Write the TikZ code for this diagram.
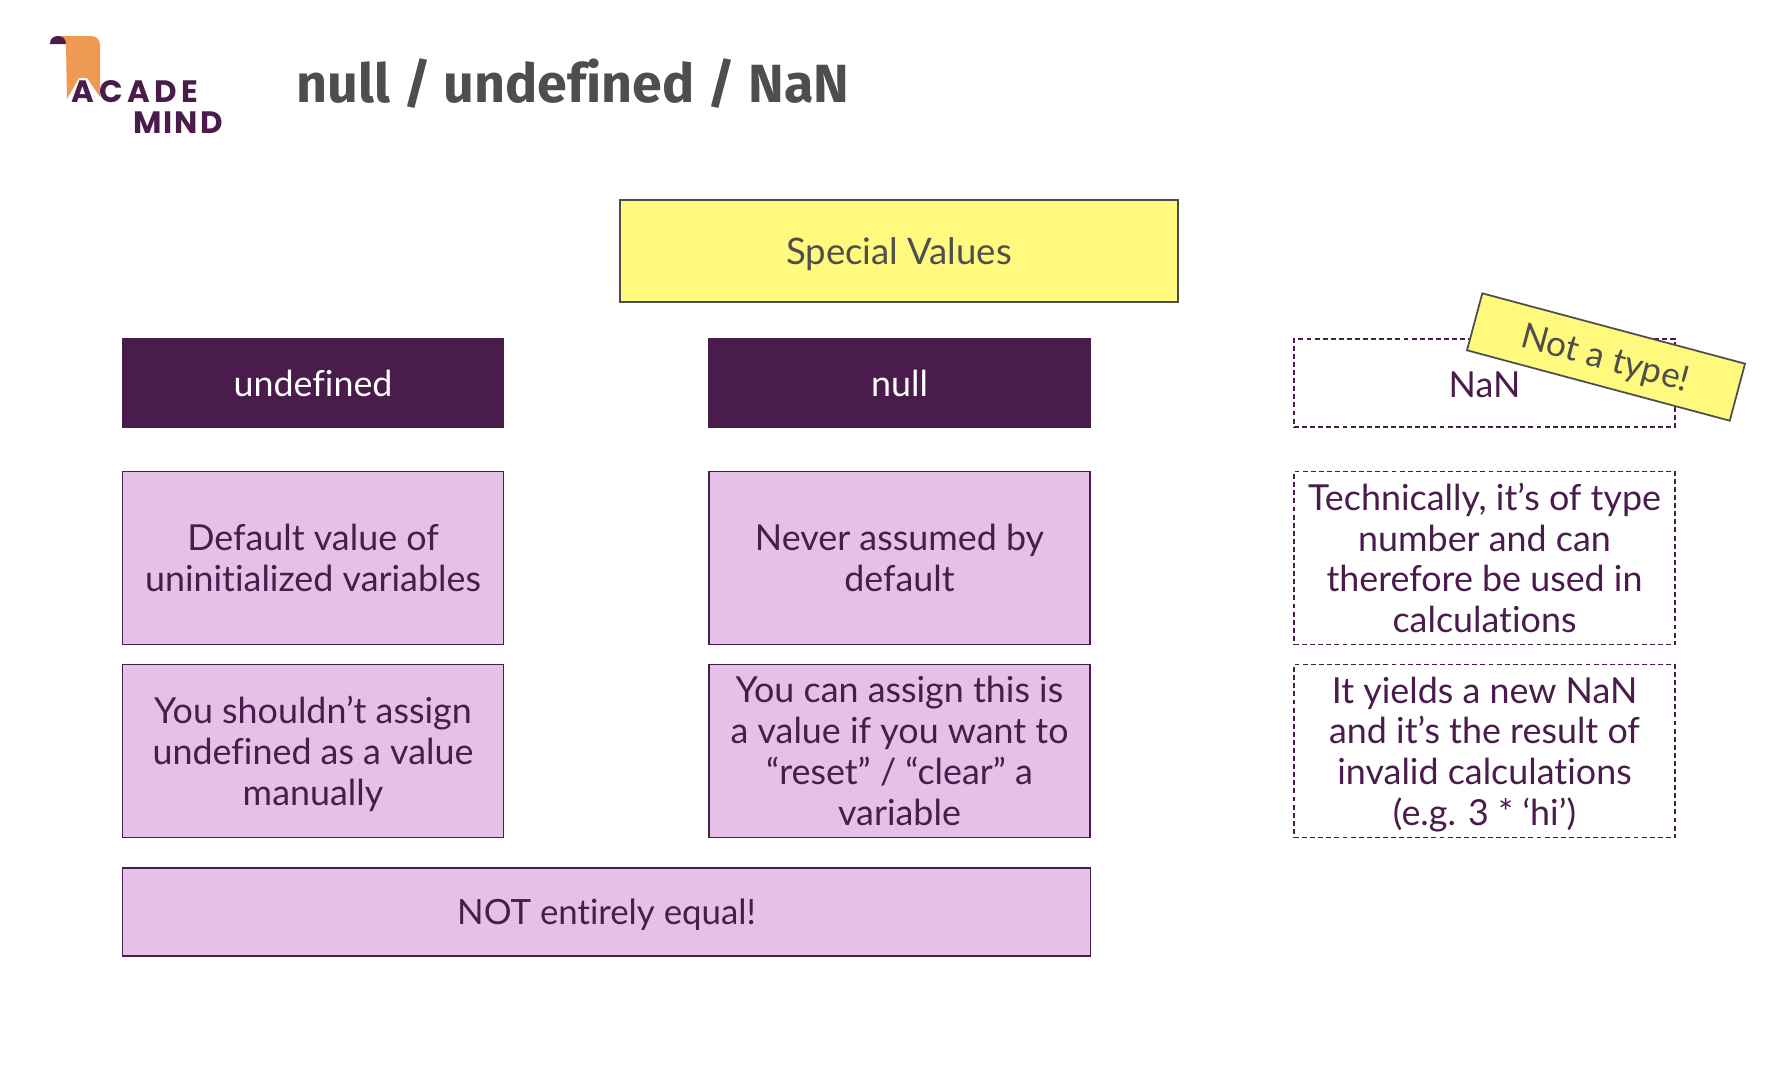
\documentclass[tikz,border=0pt]{standalone}
\usepackage{fontspec}
\setmainfont[Ligatures=NoCommon]{Lato}
\newfontfamily\titlefont[Ligatures=NoCommon]{Fira Sans}
\newfontfamily\logofontA[LetterSpace=15]{Poppins}
\newfontfamily\logofontB[LetterSpace=6]{Poppins}
\usetikzlibrary{shapes,arrows,patterns}
\definecolor{plum}{HTML}{4A1C4C}
\definecolor{lilac}{HTML}{E5C1E8}
\definecolor{lemon}{HTML}{FFF97D}
\definecolor{slate}{HTML}{4E4E4E}
\definecolor{ribbon}{HTML}{EE9A55}
\tikzset{
  box/.style={draw=plum,line width=0.5pt,inner sep=0pt,align=center,text=plum,font=\fontsize{10.2}{11.6}\selectfont},
  infobox/.style={box,fill=lilac,minimum width=3.81cm,minimum height=1.73cm},
  dashbox/.style={box,dash pattern=on 1.4pt off 0.9pt,minimum width=3.81cm,minimum height=1.73cm},
  headbox/.style={box,fill=plum,text=white,minimum width=3.81cm,minimum height=0.88cm},
  notebox/.style={draw=slate,fill=lemon,line width=0.5pt,inner sep=0pt,text=slate,text depth=0pt},
  nodepth/.style={text depth=0pt},
  logotext/.style={text=plum,inner sep=0pt,anchor=base west}
}
\begin{document}
\begin{tikzpicture}
  \useasboundingbox (0,0) rectangle (17.82,10.84);

  % logo
  \fill[ribbon] (0.58,10.48) -- (0.91,10.48) .. controls (0.97,10.48) and (1.00,10.44) .. (1.00,10.38) -- (1.00,9.87) -- (0.87,10.06) -- (0.79,10.06) -- (0.67,9.85) -- (0.66,10.40) .. controls (0.66,10.45) and (0.63,10.48) .. (0.58,10.48) -- cycle;
  \fill[plum] (0.50,10.40) .. controls (0.50,10.45) and (0.53,10.48) .. (0.58,10.48) .. controls (0.63,10.48) and (0.66,10.45) .. (0.66,10.40) -- cycle;
  \node[logotext,font=\logofontA\bfseries\fontsize{8.8}{9}\selectfont] (logoA) at (0.71,9.82) {ACADE};
  \node[logotext,font=\logofontB\bfseries\fontsize{8.8}{9}\selectfont] (logoB) at (1.33,9.51) {MIND};

  \node[anchor=base west,inner sep=0pt,text=slate,font=\titlefont\bfseries\fontsize{15.3}{16}\selectfont] (title) at (2.96,9.82) {null / undefined / NaN};

  \node[notebox,font=\fontsize{10.4}{12}\selectfont,minimum width=5.58cm,minimum height=1.02cm] (special) at (8.99,8.33) {Special Values};

  \node[headbox] (undef) at (3.13,7.01) {undefined};
  \node[headbox] (null) at (8.995,7.01) {null};
  \node[dashbox,minimum height=0.88cm,text height=8.6pt] (nan) at (14.845,7.01) {NaN};

  \node[infobox] (undefA) at (3.13,5.26) {Default value of\\uninitialized variables};
  \node[infobox] (nullA) at (8.995,5.26) {Never assumed by\\default};
  \node[dashbox] (nanA) at (14.845,5.26) {Technically, it’s of type\\number and can\\therefore be used in\\calculations};

  \node[infobox,nodepth] (undefB) at (3.13,3.33) {You shouldn’t assign\\undefined as a value\\manually};
  \node[infobox] (nullB) at (8.995,3.33) {You can assign this is\\a value if you want to\\“reset” / “clear” a\\variable};
  \node[dashbox,nodepth] (nanB) at (14.845,3.33) {It yields a new NaN\\and it’s the result of\\invalid calculations\\(e.g. 3 * ‘hi’)};

  \node[infobox,nodepth,font=\fontsize{9.9}{11.6}\selectfont,minimum width=9.68cm,minimum height=0.88cm] (equal) at (6.065,1.72) {NOT entirely equal!};

  \node[notebox,font=\fontsize{10}{11.6}\selectfont,rotate=-15,minimum width=2.72cm,minimum height=0.59cm] (nottype) at (16.06,7.27) {Not a type!};
\end{tikzpicture}
\end{document}
